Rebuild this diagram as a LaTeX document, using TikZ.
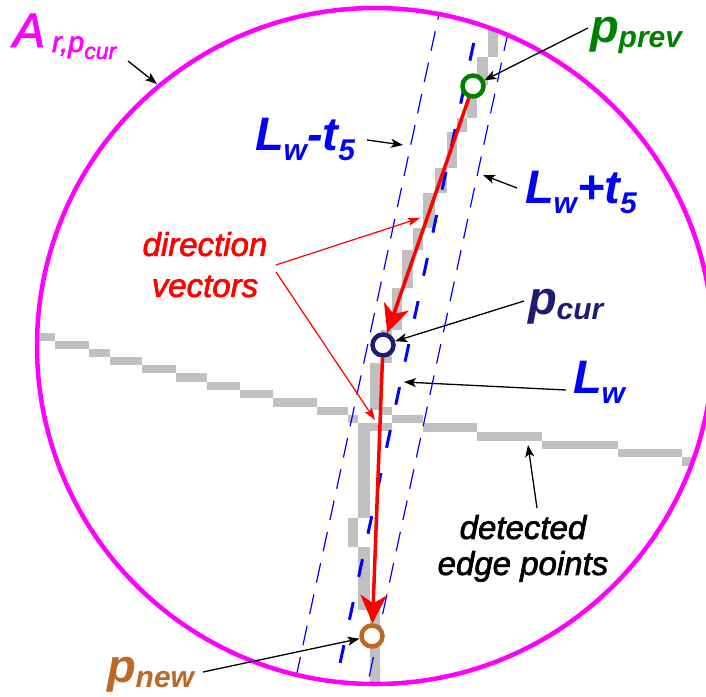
\documentclass[tikz,border=0pt]{standalone}
\usepackage{fontspec}
\setmainfont{Liberation Sans}
\newfontface\notefont{Liberation Sans Italic}[FakeBold=2]
\usepackage{tikz}
\usetikzlibrary{arrows.meta}
\definecolor{TrkMagenta}{RGB}{255,0,255}
\definecolor{TrkBlue}{RGB}{0,0,255}
\definecolor{TrkRed}{RGB}{255,0,0}
\definecolor{TrkGreen}{RGB}{0,128,0}
\definecolor{TrkNavy}{RGB}{28,28,112}
\definecolor{TrkBrown}{RGB}{188,104,38}
\definecolor{TrkGray}{RGB}{192,192,192}
\newcommand{\lblsub}[2][6pt]{\raisebox{-#1}{\fontsize{30}{30}\selectfont #2}}

\begin{document}
\begin{tikzpicture}[
x=1pt,
y=-1pt,
every node/.style={inner sep=0pt,outer sep=0pt},
bigLabel/.style={font=\fontsize{47}{47}\selectfont\bfseries\itshape,anchor=base west},
noteLabel/.style={font=\fontsize{33}{41}\selectfont\notefont,align=center,anchor=north},
trackPoint/.style={circle,draw=#1,fill=white,line width=4.5pt,minimum size=21pt,outer sep=2.25pt},
edgePixel/.style={fill=TrkGray},
offsetLine/.style={draw=TrkBlue,line width=1.2pt,dash pattern=on 20pt off 12pt},
fitLine/.style={draw=TrkBlue,line width=3pt,dash pattern=on 18pt off 26pt},
dirVector/.style={-{Stealth[length=28pt,width=26pt,inset=8pt]},draw=TrkRed,line width=3.5pt},
dirPointer/.style={-{Stealth[length=12pt,width=8pt,inset=2pt]},draw=TrkRed,line width=1.2pt},
pointer/.style={-{Stealth[length=12pt,width=9pt,inset=3pt]},draw=black,line width=1.3pt}
]

\path[use as bounding box] (0,0) rectangle (706,696);

\begin{scope}
\clip (375,346) circle[radius=338];
% vertical run of edge pixels
\fill[edgePixel] (488,15) rectangle (498,57);
\fill[edgePixel] (477,57) rectangle (488,85);
\fill[edgePixel] (467,85) rectangle (477,118);
\fill[edgePixel] (457,118) rectangle (467,132);
\fill[edgePixel] (447,132) rectangle (457,168);
\fill[edgePixel] (435,168) rectangle (447,193);
\fill[edgePixel] (423,193) rectangle (435,228);
\fill[edgePixel] (413,228) rectangle (423,250);
\fill[edgePixel] (402,250) rectangle (413,288);
\fill[edgePixel] (392,288) rectangle (402,330);
\fill[edgePixel] (381,330) rectangle (392,363);
\fill[edgePixel] (370,363) rectangle (381,410);
\fill[edgePixel] (358,423) rectangle (392,431);
\fill[edgePixel] (358,431) rectangle (370,518);
\fill[edgePixel] (348,518) rectangle (358,547);
\fill[edgePixel] (358,547) rectangle (370,610);
\fill[edgePixel] (370,610) rectangle (380,700);
% horizontal run of edge pixels
\fill[edgePixel] (30,333) rectangle (55,341);
\fill[edgePixel] (55,341) rectangle (89,349);
\fill[edgePixel] (89,349) rectangle (110,357);
\fill[edgePixel] (110,357) rectangle (142,365);
\fill[edgePixel] (142,365) rectangle (176,373);
\fill[edgePixel] (176,373) rectangle (207,382);
\fill[edgePixel] (207,382) rectangle (240,390);
\fill[edgePixel] (240,390) rectangle (273,398);
\fill[edgePixel] (273,398) rectangle (317,407);
\fill[edgePixel] (317,407) rectangle (348,415);
\fill[edgePixel] (348,415) rectangle (358,423);
\fill[edgePixel] (381,407) rectangle (392,415);
\fill[edgePixel] (392,415) rectangle (423,423);
\fill[edgePixel] (423,423) rectangle (477,432);
\fill[edgePixel] (477,432) rectangle (542,441);
\fill[edgePixel] (542,441) rectangle (618,449);
\fill[edgePixel] (618,449) rectangle (682,457);
\fill[edgePixel] (682,457) rectangle (720,466);
% fitted line and its tolerance band
\draw[offsetLine] (442,0) -- (292,696);
\draw[fitLine] (483,0) -- (333,696);
\draw[offsetLine] (515,0) -- (365,696);
\end{scope}

\draw[draw=TrkMagenta,line width=4.5pt] (375,346) circle[radius=338];

\node[trackPoint=TrkGreen] (pprev) at (473,86) {};
\node[trackPoint=TrkNavy] (pcur) at (383,345) {};
\node[trackPoint=TrkBrown] (pnew) at (372,636) {};

\draw[dirVector] (pprev) -- (pcur);
\draw[dirVector] (pcur) -- (pnew);

\node[anchor=base west,text=TrkMagenta,font=\notefont] (ringlbl) at (13,47) {\fontsize{48}{48}\selectfont A\hspace{7pt}\raisebox{-5pt}{\fontsize{29}{29}\selectfont r,p\raisebox{-7pt}{\fontsize{23}{23}\selectfont cur}}};
\node[bigLabel,text=TrkGreen] (pprevlbl) at (590,42) {p\lblsub[5pt]{prev}};
\node[bigLabel,text=TrkNavy] (pcurlbl) at (528,314) {p\lblsub[5pt]{cur}};
\node[bigLabel,text=TrkBrown] (pnewlbl) at (107,682) {p\lblsub[5pt]{new}};
\node[bigLabel,text=TrkBlue] (lowlbl) at (255,150) {L\lblsub[10pt]{w}-t\lblsub[10pt]{5}};
\node[bigLabel,text=TrkBlue] (highlbl) at (525,203) {L\lblsub[10pt]{w}+t\lblsub[10pt]{5}};
\node[bigLabel,text=TrkBlue] (fitlbl) at (573,393) {L\lblsub[10pt]{w}};
\node[noteLabel,text=TrkRed] (dirlbl) at (205,232) {direction\\vectors};
\node[noteLabel,text=black,font=\fontsize{33}{36}\selectfont\notefont] (edgelbl) at (523,515) {detected\\edge points};

\coordinate (ringtail) at (128,61);
\coordinate (ringtip) at (157,84);
\coordinate (pprevtail) at (588,28);
\coordinate (lowtail) at (367,140);
\coordinate (lowtip) at (403,145);
\coordinate (hightail) at (517,188);
\coordinate (hightip) at (483,175);
\coordinate (pcurtail) at (524,301);
\coordinate (fittail) at (566,390);
\coordinate (fittip) at (404,382);
\coordinate (edgetail) at (537,508);
\coordinate (edgetip) at (528,445);
\coordinate (pnewtail) at (203,672);
\coordinate (dirtailA) at (276,265);
\coordinate (dirtipA) at (420,218);
\coordinate (dirtailB) at (276,272);
\coordinate (dirtipB) at (375,420);

\draw[pointer] (ringtail) -- (ringtip);
\draw[pointer] (pprevtail) -- (pprev);
\draw[pointer] (lowtail) -- (lowtip);
\draw[pointer] (hightail) -- (hightip);
\draw[pointer] (pcurtail) -- (pcur);
\draw[pointer] (fittail) -- (fittip);
\draw[pointer] (edgetail) -- (edgetip);
\draw[pointer] (pnewtail) -- (pnew);
\draw[dirPointer] (dirtailA) -- (dirtipA);
\draw[dirPointer] (dirtailB) -- (dirtipB);

\end{tikzpicture}
\end{document}
